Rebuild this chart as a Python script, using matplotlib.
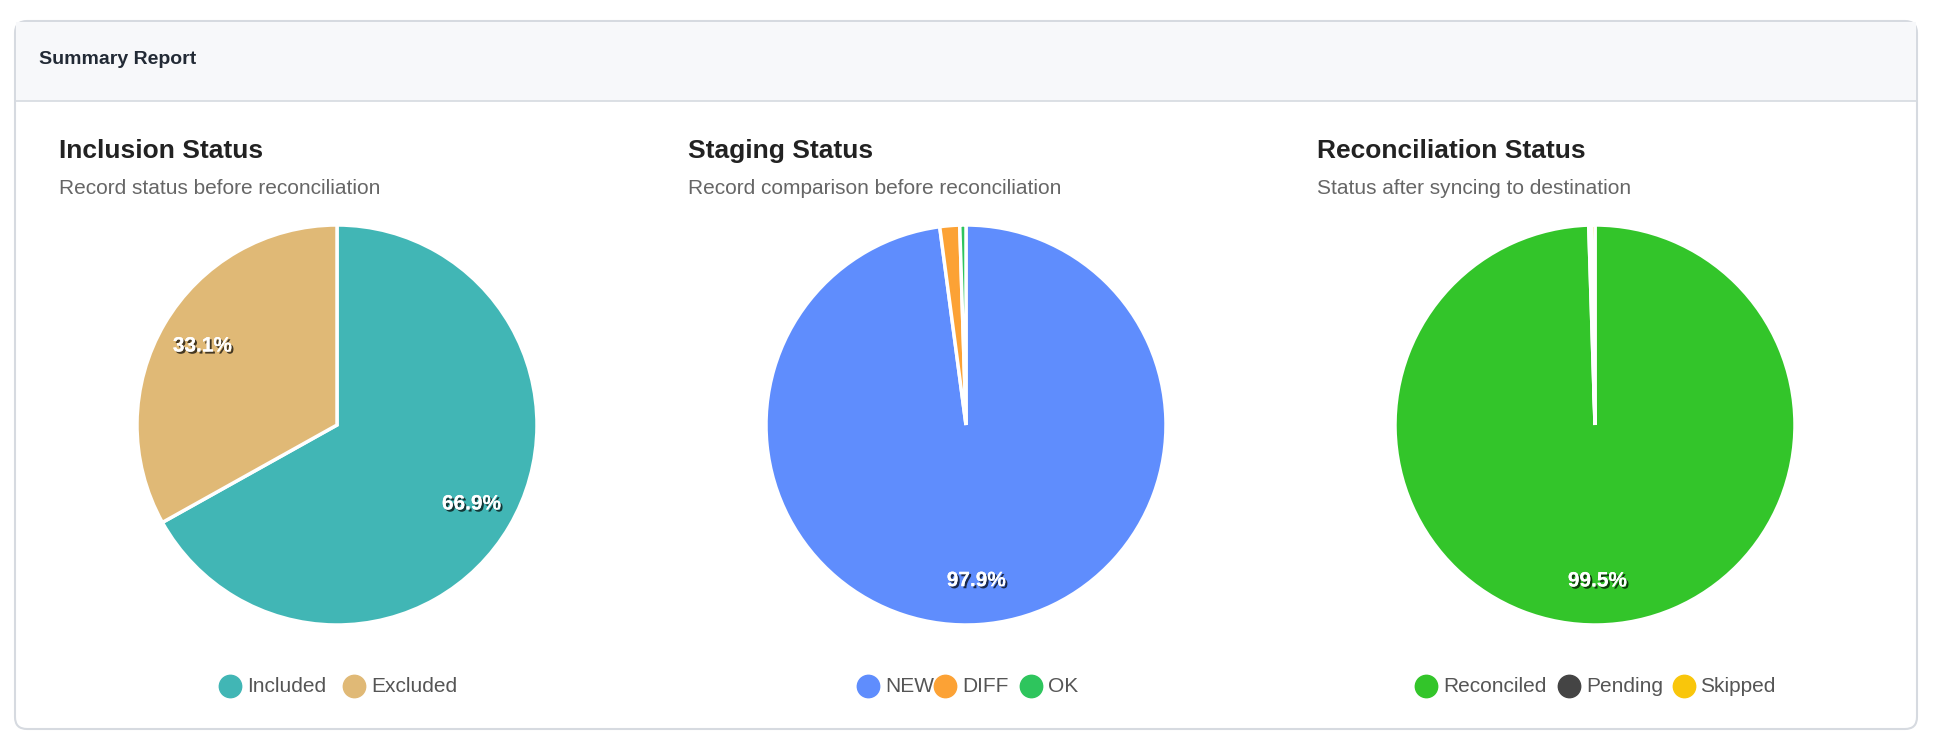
import matplotlib
matplotlib.use("Agg")
import matplotlib.pyplot as plt
from matplotlib.patches import FancyBboxPatch, Rectangle
import matplotlib.patheffects as pe

W, H = 1934, 744
titles = ["Inclusion Status", "Staging Status", "Reconciliation Status"]
subtitles = ["Record status before reconciliation", "Record comparison before reconciliation",
             "Status after syncing to destination"]
labels = [["Included", "Excluded"], ["NEW", "DIFF", "OK"], ["Reconciled", "Pending", "Skipped"]]
values = [[66.9, 33.1], [97.9, 1.6, 0.5], [99.5, 0.2, 0.3]]
colors = [["#41b6b5", "#e0b976"], ["#5f8dfd", "#fca235", "#2ec55d"], ["#33c52a", "#444444", "#f9c60b"]]

plt.rcParams['font.family'] = ['Liberation Sans', 'DejaVu Sans']
fig = plt.figure(figsize=(W/100, H/100), dpi=100)
fig.patch.set_facecolor("white")
bg = fig.add_axes([0, 0, 1, 1]); bg.set_xlim(0, W); bg.set_ylim(H, 0); bg.axis("off")
card = FancyBboxPatch((15, 21), 1902, 708, boxstyle="round,pad=0,rounding_size=12",
                      fc="white", ec="#d6dae0", lw=1.5)
bg.add_patch(card)
bg.add_patch(Rectangle((16, 22), 1900, 79, fc="#f7f8fa", ec="none"))
bg.plot([16, 1916], [101, 101], color="#d6dae0", lw=1.2)
bg.text(39, 60, "Summary Report", fontsize=14, fontweight="bold", color="#222a35", va="center")

shadow = [pe.withSimplePatchShadow(offset=(1.5, -1.5), shadow_rgbFace="black", alpha=0.7), pe.Normal()]
r = 200
for i in range(3):
    cx = 337 + i * 629
    cy = 425
    x0 = 59 + i * 629
    bg.text(x0, 151, titles[i], fontsize=19, fontweight="bold", color="#222222", va="center")
    bg.text(x0, 189, subtitles[i], fontsize=15, color="#666666", va="center")
    ax = fig.add_axes([(cx - r) / W, 1 - (cy + r) / H, 2 * r / W, 2 * r / H])
    wedges, _, autot = ax.pie(values[i], colors=colors[i], startangle=90, counterclock=False,
                              wedgeprops=dict(edgecolor="white", linewidth=2.5),
                              autopct=lambda p: f"{p:.1f}%" if p > 5 else "", pctdistance=0.78)
    for t in autot:
        t.set_color("white"); t.set_fontsize(15); t.set_fontweight("bold"); t.set_path_effects(shadow)
    ax.set_aspect("equal"); ax.set_xlim(-1, 1); ax.set_ylim(-1, 1)
    # legend
    items = labels[i]
    widths = [len(s) * 9.5 + 36 for s in items]
    total = sum(widths) + 12 * (len(items) - 1)
    x = cx - total / 2
    for lab, col, w in zip(items, colors[i], widths):
        bg.scatter([x + 11], [686], s=260, color=col, zorder=3)
        bg.text(x + 28, 686, lab, fontsize=15, color="#555555", va="center")
        x += w + 12
fig.savefig("out.png", dpi=100)
